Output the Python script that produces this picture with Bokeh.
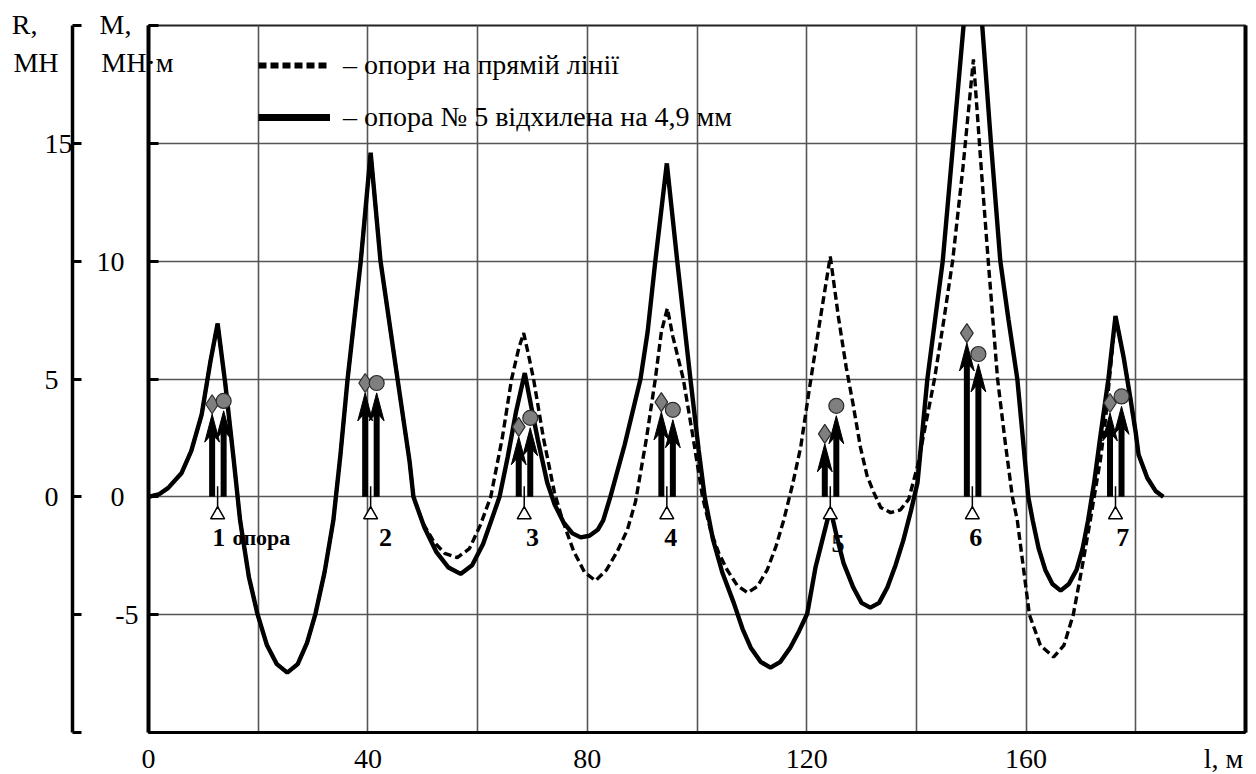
from bokeh.plotting import figure
from bokeh.models import (LinearAxis, FixedTicker, Label, LabelSet, Range1d,
                          ColumnDataSource, Legend, LegendItem)
from bokeh.core.properties import value
from bokeh.embed import file_html
from bokeh.resources import INLINE

FONT = "Liberation Serif"

# ---------------- data ----------------
# part common to both moment diagrams (0 .. 48 m)
common_x = [0, 2.0, 3.6, 6.0, 7.8, 9.7, 11.3, 12.6, 14.0, 15.5, 16.7, 18.3, 19.9, 21.6, 23.4, 25.3,
            27.2, 28.9, 30.4, 32.1, 33.7, 35.0, 36.3, 38.7, 40.5, 42.3, 45.4, 47.6, 48.3]
common_m = [0, 0.12, 0.38, 1.0, 1.95, 3.5, 5.76, 7.35, 4.8, 1.65, -1.0, -3.4, -5.0, -6.3, -7.1, -7.46,
            -7.1, -6.2, -5.0, -3.2, -1.0, 1.8, 5.0, 10.0, 14.6, 10.0, 5.0, 1.5, 0.0]
# common right tail
tail_x = [177.8, 179.0, 180.0, 180.5, 182.1, 183.6, 185.0]
tail_m = [5.9, 4.2, 2.7, 1.8, 0.8, 0.25, 0.0]

# supports on a straight line (dashed)
straight_mid_x = [50.0, 52.0, 54.0, 56.3, 58.5, 60.5, 62.4, 64.5, 66.2, 67.5,
                  68.4, 69.3, 70.2, 72.0, 74.0, 75.5, 77.5, 79.5, 81.5, 83.5,
                  85.5, 87.3, 88.8, 90.8, 92.4, 93.5, 94.6, 95.6, 97.5, 99.3,
                  101.0, 102.5, 104.0, 105.5, 107.3, 109.2, 111.0, 112.8, 114.4, 115.8,
                  117.4, 118.9, 120.5, 122.3, 124.3, 125.8, 127.2, 128.4, 129.8, 131.0,
                  132.2, 133.5, 135.3, 137.1, 138.6, 140.2, 141.8, 143.3, 145.0, 146.6,
                  148.5, 150.4, 151.8, 153.1, 154.8, 156.2, 157.5, 158.4, 159.5, 160.6,
                  162.6, 165.0, 166.9, 168.6, 170.2, 171.7, 173.6, 174.5, 175.4, 176.3]
straight_mid_m = [-1.1, -1.9, -2.4, -2.58, -2.2, -1.2, 0.0, 2.5, 5.0, 6.3,
                  6.95, 6.0, 5.0, 2.5, 0.2, -1.0, -2.3, -3.2, -3.56, -3.1,
                  -2.3, -1.4, -0.2, 2.5, 5.0, 7.0, 8.0, 6.8, 5.0, 2.5,
                  0.0, -1.44, -2.4, -3.1, -3.75, -4.07, -3.8, -3.1, -2.1, -1.0,
                  0.5, 2.1, 4.6, 7.3, 10.2, 7.6, 5.5, 4.0, 2.1, 0.9,
                  0.2, -0.45, -0.67, -0.55, -0.1, 1.3, 3.2, 5.0, 7.5, 10.0,
                  14.0, 18.56, 14.0, 10.0, 5.0, 2.3, 0.0, -1.0, -3.0, -5.0,
                  -6.3, -6.8, -6.3, -5.0, -3.0, -1.0, 1.65, 3.35, 5.5, 7.67]

# support No 5 deflected by 4.9 mm (solid)
deflected_mid_x = [50.3, 52.5, 54.7, 56.9, 59.0, 61.0, 62.5, 64.0, 65.5, 67.0,
                   68.6, 69.8, 71.0, 72.7, 74.0, 75.7, 77.3, 78.8, 80.4, 81.9,
                   82.9, 84.2, 86.8, 89.7, 91.0, 92.4, 94.5, 96.4, 98.8, 100.3,
                   101.4, 102.9, 104.6, 106.7, 108.3, 109.8, 111.6, 113.4, 115.2, 117.0,
                   118.6, 120.1, 121.6, 123.0, 124.3, 125.5, 126.7, 128.5, 130.0, 131.6,
                   133.2, 134.7, 136.2, 137.6, 139.0, 140.2, 141.1, 142.0, 143.4, 144.8,
                   146.7, 148.6, 150.2, 152.0, 153.6, 155.3, 156.8, 158.4, 159.4, 160.4,
                   161.2, 162.3, 163.5, 164.8, 166.3, 167.8, 169.2, 170.3, 171.3, 172.4,
                   173.5, 175.0, 176.3]
deflected_mid_m = [-1.3, -2.35, -3.0, -3.27, -2.9, -2.0, -1.0, 0.0, 1.7, 3.6,
                   5.25, 3.8, 2.4, 0.6, -0.3, -1.1, -1.55, -1.72, -1.65, -1.4,
                   -1.0, 0.0, 2.2, 5.0, 7.0, 10.0, 14.15, 10.0, 5.0, 2.0,
                   0.0, -1.8, -3.2, -4.5, -5.6, -6.4, -7.0, -7.25, -7.0, -6.4,
                   -5.7, -4.96, -3.0, -1.7, -0.5, -1.7, -2.8, -3.85, -4.5, -4.7,
                   -4.5, -3.85, -2.9, -1.86, -0.6, 0.6, 2.8, 5.0, 7.5, 10.0,
                   15.0, 20.0, 24.0, 20.0, 15.0, 10.0, 7.5, 5.0, 2.5, 0.0,
                   -1.0, -2.2, -3.1, -3.7, -3.98, -3.7, -3.1, -2.2, -1.0, 0.6,
                   2.5, 5.0, 7.67]

straight_x = common_x + straight_mid_x + tail_x
straight_m = common_m + straight_mid_m + tail_m
deflected_x = common_x + deflected_mid_x + tail_x
deflected_m = common_m + deflected_mid_m + tail_m

# supports and reactions
support_x = [12.6, 40.5, 68.5, 94.5, 124.3, 150.2, 176.3]
support_names = ["1", "2", "3", "4", "5", "6", "7"]
R_straight = [3.93, 4.83, 2.97, 4.02, 2.67, 6.95, 3.98]
R_deflected = [4.07, 4.83, 3.35, 3.69, 3.86, 6.06, 4.26]

# axes
x_tick_values = [0, 40, 80, 120, 160]
x_tick_text = ["0", "40", "80", "120", "160"]
x_axis_title = "l, м"
grid_x = [0, 20, 40, 60, 80, 100, 120, 140, 160, 180, 200]
y_ticks = [-10, -5, 0, 5, 10, 15, 20]
m_tick_labels = {-5: "-5", 0: "0", 10: "10"}
r_tick_labels = {0: "0", 5: "5", 15: "15"}
m_title = ["М,", "МН·м"]
r_title = ["R,", "МН"]
legend_texts = ["– опори на прямій лінії", "– опора № 5 відхилена на 4,9 мм"]

# ---------------- layout / style constants ----------------
NB = "\u00a0"
TXT = "28px"
TITLE_Y = 19.24          # vertical centre of the two-line axis titles
XT_POS = 196             # where the x-axis title sits
label_dx = [0.2, 2.7, 1.5, 0.7, 1.4, 0.6, 1.3]   # offsets of support numbers
label_dy = [-1.74, -1.74, -1.74, -1.74, -2.0, -1.74, -1.74]

p = figure(frame_width=1097, frame_height=707,
           x_range=Range1d(0, 200), y_range=Range1d(-10, 20),
           output_backend="svg", toolbar_location=None,
           min_border_left=148, min_border_right=11, min_border_top=25, min_border_bottom=42,
           background_fill_color="white", border_fill_color="white")
p.outline_line_color = "#222222"
p.outline_line_width = 2

p.xgrid.ticker = FixedTicker(ticks=grid_x)
p.ygrid.ticker = FixedTicker(ticks=y_ticks)
for g in (p.xgrid[0], p.ygrid[0]):
    g.grid_line_color = "#555555"
    g.grid_line_width = 1.6

# bottom axis: line + tick labels + axis title in place of the last label
xa = p.xaxis[0]
xa.ticker = FixedTicker(ticks=x_tick_values + [XT_POS])
xa.major_label_overrides = dict(list(zip(x_tick_values, x_tick_text)) + [(XT_POS, x_axis_title)])
xa.axis_line_width = 3
xa.major_tick_in = 0
xa.major_tick_out = 0
xa.minor_tick_line_color = None
xa.major_label_standoff = 10
xa.major_label_text_font = FONT
xa.major_label_text_font_size = TXT
xa.major_label_text_color = "black"


def line_axis(ax, width, tick_in):
    ax.ticker = FixedTicker(ticks=y_ticks)
    ax.major_label_overrides = {t: "" for t in y_ticks}
    ax.major_label_text_font_size = "0px"
    ax.major_label_standoff = 0
    ax.axis_line_width = width
    ax.axis_line_color = "black"
    ax.major_tick_in = tick_in
    ax.major_tick_out = 0
    ax.major_tick_line_width = 3
    ax.major_tick_line_color = "black"
    ax.minor_tick_line_color = None
    return ax


def label_axis(labels, standoff):
    ticks = list(labels.keys())
    return LinearAxis(ticker=FixedTicker(ticks=ticks), major_label_overrides=labels,
                      axis_line_color=None, major_tick_line_color=None, minor_tick_line_color=None,
                      major_tick_in=0, major_tick_out=0, major_label_standoff=standoff,
                      major_label_text_font=FONT, major_label_text_font_size=TXT,
                      major_label_text_color="black")


# M axis: frame line with inner ticks, then its labels (text padded with no-break spaces)
line_axis(p.yaxis[0], 4, 10)
m_labels = {-5: m_tick_labels[-5] + NB * 5,
            0: m_tick_labels[0] + NB * 7,
            10: NB * 3 + m_tick_labels[10] + NB * 7,
            TITLE_Y: m_title[0] + NB * 6 + "\n" + m_title[1]}
p.add_layout(label_axis(m_labels, -25), "left")

# R axis: bracket line with inner ticks, then its labels
p.add_layout(line_axis(LinearAxis(), 3.5, 9), "left")
r_labels = {0: r_tick_labels[0] + NB * 2,
            5: r_tick_labels[5] + NB * 2,
            15: r_tick_labels[15],
            TITLE_Y: r_title[0] + NB * 5 + "\n" + r_title[1] + NB * 2}
p.add_layout(label_axis(r_labels, 0), "left")

# right border
rb = LinearAxis(ticker=FixedTicker(ticks=[]), axis_line_width=4, axis_line_color="black",
                major_tick_line_color=None, minor_tick_line_color=None,
                major_label_text_font_size="0px", major_label_standoff=0)
p.add_layout(rb, "right")

# ---------------- curves ----------------
r_straight = p.line(straight_x, straight_m, line_color="black", line_width=3.4, line_dash="8 4")
r_defl = p.line(deflected_x, deflected_m, line_color="black", line_width=4.4)
# hidden copies that only give the legend its thicker samples
leg_straight = p.line(straight_x, straight_m, line_color="black", line_width=6, line_dash="8 4", visible=False)
leg_defl = p.line(deflected_x, deflected_m, line_color="black", line_width=7, visible=False)

# ---------------- supports ----------------
tri_y = -0.76
n = len(support_x)
p.segment(x0=support_x, y0=[0.45] * n, x1=support_x, y1=[-0.45] * n, line_color="black", line_width=1.5)
p.scatter(support_x, [tri_y] * n, marker="triangle", size=14, fill_color="white",
          line_color="black", line_width=1.5)

# reaction arrows
HW = 1.35   # half width of arrow head (data units)
HL = 1.19   # length of arrow head (data units)
GAP = 0.42  # marker above arrow tip
arrow_sets = [([s - 1.0 for s in support_x], R_straight, "diamond", 19),
              ([s + 1.1 for s in support_x], R_deflected, "circle", 15)]
for ax_list, rv, mk, sz in arrow_sets:
    tips = [r - GAP for r in rv]
    p.segment(x0=ax_list, y0=[0] * len(ax_list), x1=ax_list, y1=[t - 0.6 * HL for t in tips],
              line_color="black", line_width=6)
    xs = [[a, a - HW, a, a + HW] for a in ax_list]
    ys = [[t, t - HL, t - 0.7 * HL, t - HL] for t in tips]
    p.patches(xs, ys, fill_color="black", line_color="black", line_width=1)
    p.scatter(ax_list, rv, marker=mk, size=sz, fill_color="#7f7f7f", line_color="#2b2b2b", line_width=1.2)

# support numbers
lab_src = ColumnDataSource(dict(x=[s + d for s, d in zip(support_x, label_dx)], y=label_dy, t=support_names))
p.add_layout(LabelSet(x="x", y="y", text="t", source=lab_src, text_align="center", text_baseline="middle",
                      text_font=value(FONT), text_font_style="bold", text_font_size="26px", text_color="black"))
p.add_layout(Label(x=support_x[0] + 2.7, y=-1.74, text="опора", text_align="left", text_baseline="middle",
                   text_font=FONT, text_font_style="bold", text_font_size="22px", text_color="black"))

# ---------------- legend ----------------
legend = Legend(items=[LegendItem(label=legend_texts[0], renderers=[leg_straight]),
                       LegendItem(label=legend_texts[1], renderers=[leg_defl])],
                location=(110, 593), orientation="vertical",
                glyph_width=72, glyph_height=44, label_height=44, spacing=8,
                label_standoff=13, padding=0, margin=0,
                border_line_color=None, background_fill_alpha=0,
                inactive_fill_alpha=0,
                label_text_font=FONT, label_text_font_size=TXT, label_text_color="black")
p.add_layout(legend)

open("out.html", "w").write(file_html(p, INLINE))
